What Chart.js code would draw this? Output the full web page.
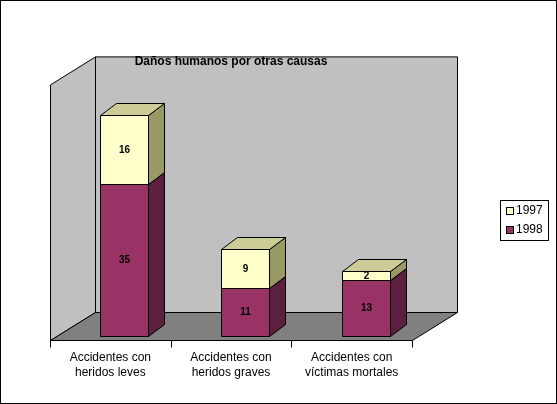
<!DOCTYPE html>
<html>
<head>
<meta charset="utf-8">
<script src="https://cdn.jsdelivr.net/npm/chart.js@4"></script>
<style>
  body { margin: 0; background: #fff; }
  #wrap { width: 557px; height: 404px; }
</style>
</head>
<body>
<div id="wrap"><canvas id="myChart" width="557" height="404"></canvas></div>
<script>
'use strict';

// DATA
let categories = [['Accidentes con', 'heridos leves'], ['Accidentes con', 'heridos graves'], ['Accidentes con', 'víctimas mortales']];
let values1998 = [35, 11, 13];
let values1997 = [16, 9, 2];
let seriesNames = ['1998', '1997'];

// 3D look
const wallDX = 45, wallDY = -28;
const barDX = 16, barDY = -12;
const barShift = 14;
const faces = {
  '1998': { front: '#993366', side: '#5c1f3d', top: '#7a2952' },
  '1997': { front: '#ffffcc', side: '#999966', top: '#cccc99' }
};

function poly(ctx, pts, fill) {
  ctx.beginPath();
  ctx.moveTo(pts[0][0], pts[0][1]);
  for (let i = 1; i < pts.length; i++) ctx.lineTo(pts[i][0], pts[i][1]);
  ctx.closePath();
  if (fill) { ctx.fillStyle = fill; ctx.fill(); }
  ctx.strokeStyle = '#000';
  ctx.lineWidth = 1;
  ctx.stroke();
}

const excel3d = {
  id: 'excel3d',
  beforeDraw(chart) {
    const ctx = chart.ctx;
    ctx.save();
    ctx.fillStyle = '#fff';
    ctx.fillRect(0, 0, chart.width, chart.height);
    ctx.strokeStyle = '#000';
    ctx.strokeRect(0.5, 0.5, chart.width - 1, chart.height - 1);

    const a = chart.chartArea;
    const L = a.left, R = a.right, T = a.top, B = a.bottom + 4;
    ctx.translate(0.5, 0.5);
    // back wall
    poly(ctx, [[L + wallDX, T + wallDY], [R + wallDX, T + wallDY], [R + wallDX, B + wallDY], [L + wallDX, B + wallDY]], '#c0c0c0');
    // left wall
    poly(ctx, [[L, T], [L + wallDX, T + wallDY], [L + wallDX, B + wallDY], [L, B]], '#c0c0c0');
    // floor
    poly(ctx, [[L, B], [R, B], [R + wallDX, B + wallDY], [L + wallDX, B + wallDY]], '#808080');
    // axis ticks
    const n = categories.length;
    ctx.beginPath();
    for (let i = 0; i <= n; i++) {
      const x = Math.round(L + (R - L) * i / n);
      ctx.moveTo(x, B);
      ctx.lineTo(x, B + 7);
    }
    ctx.stroke();
    ctx.restore();
  },
  afterDatasetsDraw(chart) {
    const ctx = chart.ctx;
    ctx.save();
    ctx.translate(0.5, 0.5);
    chart.data.datasets.forEach((ds, di) => {
      const meta = chart.getDatasetMeta(di);
      const f = faces[ds.label];
      meta.data.forEach((bar, i) => {
        const x0 = Math.round(bar.x - bar.width / 2) + barShift, x1 = Math.round(bar.x + bar.width / 2) + barShift;
        const yt = Math.round(bar.y), yb = Math.round(bar.base);
        poly(ctx, [[x0, yb], [x1, yb], [x1, yt], [x0, yt]], f.front);
        poly(ctx, [[x1, yb], [x1 + barDX, yb + barDY], [x1 + barDX, yt + barDY], [x1, yt]], f.side);
        poly(ctx, [[x0, yt], [x1, yt], [x1 + barDX, yt + barDY], [x0 + barDX, yt + barDY]], f.top);
        ctx.fillStyle = '#000';
        ctx.font = 'bold 10px "Liberation Sans", Arial, sans-serif';
        ctx.textAlign = 'center';
        ctx.textBaseline = 'middle';
        ctx.fillText(String(ds.data[i]), (x0 + x1) / 2, (yt + yb) / 2);
      });
    });
    ctx.restore();

    // category labels
    const a = chart.chartArea;
    const n = categories.length;
    ctx.save();
    ctx.fillStyle = '#000';
    ctx.font = '12px "Liberation Sans", Arial, sans-serif';
    ctx.textAlign = 'center';
    ctx.textBaseline = 'top';
    categories.forEach((lines, i) => {
      const cx = a.left + (a.right - a.left) * (i + 0.5) / n;
      lines.forEach((t, j) => ctx.fillText(t, cx, a.bottom + 16 + j * 15));
    });

    // legend
    const lx = 500, ly = 200;
    ctx.fillStyle = '#fff';
    ctx.fillRect(lx, ly, 48, 40);
    ctx.strokeStyle = '#000';
    ctx.strokeRect(lx + 0.5, ly + 0.5, 48, 40);
    ctx.textAlign = 'left';
    ctx.textBaseline = 'middle';
    ['1997', '1998'].forEach((name, k) => {
      const y = ly + 11 + k * 19;
      ctx.fillStyle = faces[name].front;
      ctx.fillRect(lx + 6, y - 4, 7, 7);
      ctx.strokeRect(lx + 6.5, y - 3.5, 7, 7);
      ctx.fillStyle = '#000';
      ctx.fillText(name, lx + 16, y);
    });
    ctx.restore();
  }
};

const data = {
  labels: categories,
  datasets: [
    { label: seriesNames[0], data: values1998, backgroundColor: 'rgba(0,0,0,0)', barPercentage: 0.4, categoryPercentage: 1 },
    { label: seriesNames[1], data: values1997, backgroundColor: 'rgba(0,0,0,0)', barPercentage: 0.4, categoryPercentage: 1 }
  ]
};

const config = {
  type: 'bar',
  data: data,
  options: {
    responsive: false,
    animation: false,
    layout: { padding: { left: 50, right: 145, top: 40, bottom: 68 } },
    plugins: {
      legend: { display: false },
      tooltip: { enabled: false },
      title: {
        display: true,
        text: 'Daños humanos por otras causas',
        color: '#000',
        font: { family: '"Liberation Sans", Arial, sans-serif', size: 12, weight: 'bold' },
        padding: { top: 14, bottom: 16 }
      }
    },
    scales: {
      x: { stacked: true, display: false },
      y: { stacked: true, display: false, min: 0, max: 58 }
    }
  },
  plugins: [excel3d]
};

const myChart = new Chart(document.getElementById('myChart'), config);
</script>
</body>
</html>
